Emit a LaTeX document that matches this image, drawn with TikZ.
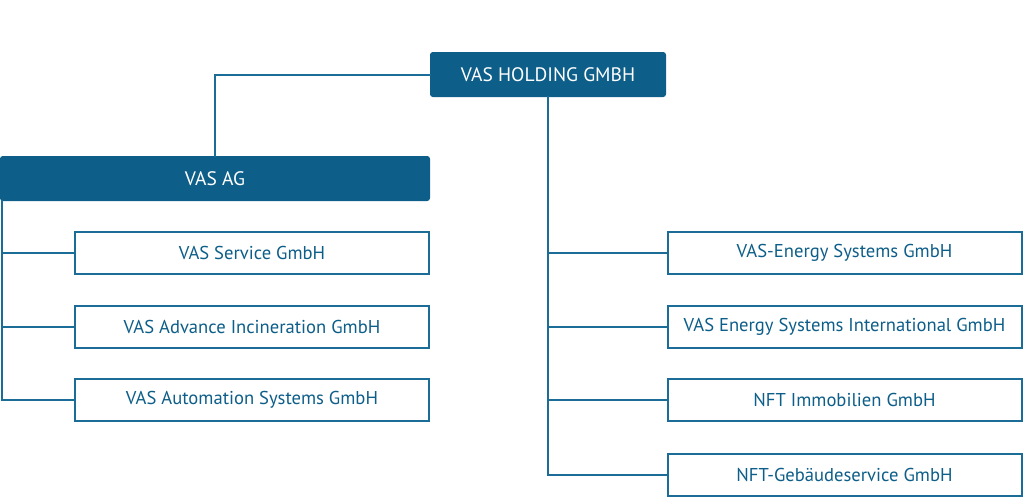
\documentclass[tikz,border=0pt]{standalone}
\usepackage{fontspec}
\setmainfont{PT Sans}
\usepackage{tikz}
\usetikzlibrary{positioning,calc}
\definecolor{vasblue}{HTML}{0D5E89}
\definecolor{vasline}{HTML}{1C6C98}
\tikzstyle{link}=[draw=vasline,line width=2pt]
\tikzstyle{box}=[line width=2pt, inner sep=0pt, outer sep=0pt, align=center,
    font=\fontsize{18.6}{22}\selectfont]
\tikzstyle{headbox}=[box, fill=vasblue, draw=vasblue, text=white, rounded corners=2pt]
\tikzstyle{unitbox}=[box, fill=white, draw=vasline, text=vasblue,
    minimum width=\unitwidth, minimum height=\unitheight]
\def\unitwidth{354pt}
\def\unitheight{42pt}

\begin{document}
\begin{tikzpicture}[x=1pt,y=-1pt]

    \useasboundingbox (0,0) rectangle (1024,498);

    % top of the group
    \node[headbox, minimum width=234pt, minimum height=43pt, font=\fontsize{19.5}{22}\selectfont]
            (holding) at (548,74.5) {VAS HOLDING GMBH};

    % subgroup
    \node[headbox, minimum width=428pt, minimum height=43pt, font=\fontsize{19.5}{22}\selectfont]
            (ag) at (215,178.5) {VAS AG};

    % companies under vas ag
    \node[unitbox] (l1) at (252,253) {VAS Service GmbH};
    \node[unitbox] (l2) at (252,327) {VAS Advance Incineration GmbH};
    \node[unitbox] (l3) at (252,400) {VAS Automation Systems GmbH};

    % companies under the holding
    \node[unitbox] (r1) at (844.5,253) {VAS-Energy Systems GmbH};
    \node[unitbox] (r2) at (844.5,327) {VAS Energy Systems International GmbH};
    \node[unitbox] (r3) at (844.5,400) {NFT Immobilien GmbH};
    \node[unitbox] (r4) at (844.5,475) {NFT-Gebäudeservice GmbH};

    % lines
    \draw[link] (holding.west) -| (ag.north);
    \foreach \i in {1,...,3}
        \draw[link] ([xshift=1pt]ag.south west) |- (l\i.west);
    \foreach \i in {1,...,4}
        \draw[link] (holding.south) |- (r\i.west);

\end{tikzpicture}
\end{document}
